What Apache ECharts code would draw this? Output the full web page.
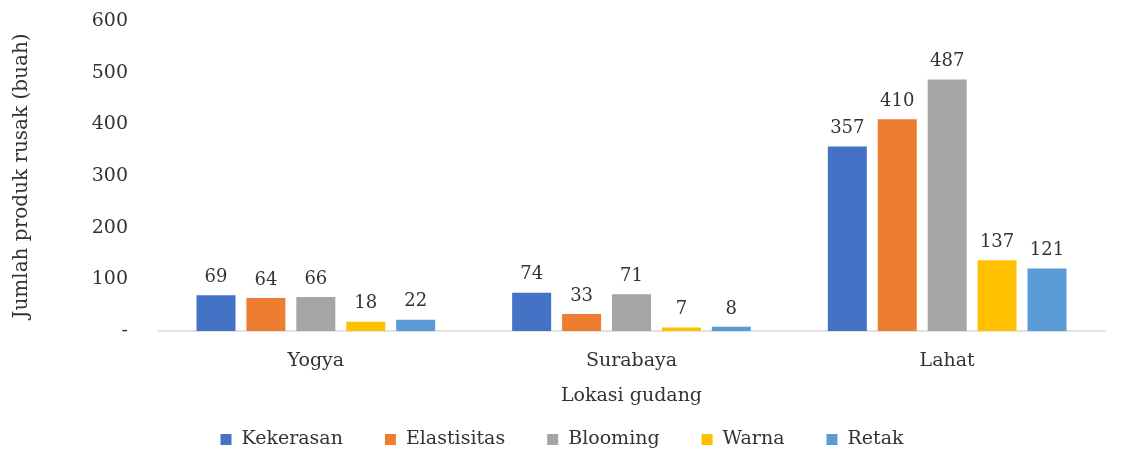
<!DOCTYPE html>
<html>
<head>
<meta charset="utf-8">
<script src="https://cdn.jsdelivr.net/npm/echarts@6/dist/echarts.min.js"></script>
<style>
    html, body { margin: 0; padding: 0; background: #fff; }
    #chart { width: 1124px; height: 460px; }
</style>
</head>
<body>
<div id="chart"></div>
<script>
    var locations = ['Yogya', 'Surabaya', 'Lahat'];
    var seriesNames = ['Kekerasan', 'Elastisitas', 'Blooming', 'Warna', 'Retak'];
    var kekerasan = [69, 74, 357];
    var elastisitas = [64, 33, 410];
    var blooming = [66, 71, 487];
    var warna = [18, 7, 137];
    var retak = [22, 8, 121];
    var colors = ['#4472C4', '#ED7D31', '#A5A5A5', '#FFC000', '#5B9BD5'];

    var values = [kekerasan, elastisitas, blooming, warna, retak];
    var font = 'DejaVu Serif';
    var textColor = '#333333';

    var series = seriesNames.map(function (name, i) {
        return {
            name: name,
            type: 'bar',
            data: values[i],
            barWidth: 39,
            barGap: '28%',
            itemStyle: { color: colors[i] },
            label: {
                show: true,
                position: 'top',
                distance: 9,
                color: textColor,
                fontFamily: font,
                fontSize: 18
            }
        };
    });

    var chart = echarts.init(document.getElementById('chart'));
    chart.setOption({
        animation: false,
        textStyle: { fontFamily: font },
        grid: { left: 158, right: 19, top: 21, bottom: 129 },
        legend: {
            bottom: 6,
            left: 'center',
            itemWidth: 11,
            itemHeight: 11,
            itemGap: 42,
            icon: 'rect',
            textStyle: { fontFamily: font, fontSize: 19, color: textColor, padding: [0, 0, 0, 5] },
            data: seriesNames
        },
        xAxis: {
            type: 'category',
            data: locations,
            name: 'Lokasi gudang',
            nameLocation: 'middle',
            nameGap: 56,
            nameTextStyle: { fontFamily: font, fontSize: 19, color: textColor },
            axisLine: { lineStyle: { color: '#D9D9D9', width: 1.5 } },
            axisTick: { show: false },
            axisLabel: { margin: 21, fontFamily: font, fontSize: 19, color: textColor }
        },
        yAxis: {
            type: 'value',
            min: 0,
            max: 600,
            interval: 100,
            name: 'Jumlah produk rusak (buah)',
            nameLocation: 'middle',
            nameGap: 126,
            nameTextStyle: { fontFamily: font, fontSize: 20, color: textColor },
            splitLine: { show: false },
            axisLine: { show: false },
            axisTick: { show: false },
            axisLabel: {
                margin: 30,
                fontFamily: font,
                fontSize: 19,
                color: textColor,
                formatter: function (v) { return v === 0 ? '-' : v; }
            }
        },
        series: series
    });
</script>
</body>
</html>
